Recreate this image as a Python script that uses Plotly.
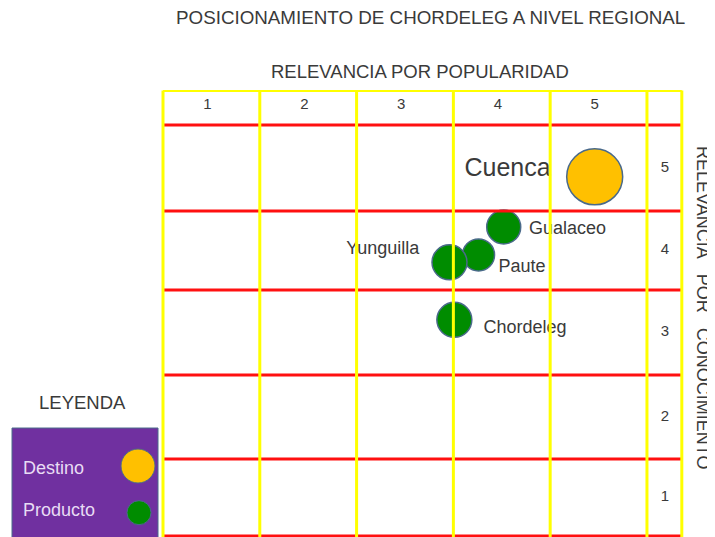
import plotly.graph_objects as go

# popularidad (x) / conocimiento (y) scores
lugares = ["Gualaceo", "Paute", "Yunguilla", "Chordeleg", "Cuenca"]
tipo = ["Producto", "Producto", "Producto", "Producto", "Destino"]
popularidad = [4.02, 3.76, 3.46, 3.51, 4.96]
conocimiento = [4.26, 3.92, 3.83, 3.13, 4.87]
tamano = [34, 32, 35, 35, 56]

# where each name sits (data units)
label_x = [4.68, 4.21, 2.77, 4.24, 4.06]
label_y = [4.235, 3.77, 3.98, 3.03, 4.95]

niveles = [1, 2, 3, 4, 5]
# the table rows are not quite even in the original
limites_filas = [0.5, 1.437, 2.459, 3.493, 4.454, 5.5]
titulo = "POSICIONAMIENTO DE CHORDELEG A NIVEL REGIONAL"
eje_x = "RELEVANCIA POR POPULARIDAD"
eje_y = "RELEVANCIA&nbsp;&nbsp;&nbsp;POR&nbsp;&nbsp;&nbsp;CONOCIMIENTO"

colores = {"Destino": "#FFC000", "Producto": "#008C00"}
borde = "#4A6A8A"
txt = "#3a3a3a"
font = "Liberation Sans, Arial, sans-serif"

x_right = 5.86   # right edge of the label column
y_top = 5.92     # top edge of the header row

fig = go.Figure()

# grid: red rows below, yellow columns on top
shapes = []
for yv in limites_filas:
    shapes.append(dict(type="line", xref="x", yref="y", x0=0.5, x1=x_right,
                       y0=yv, y1=yv, line=dict(color="#FF1010", width=3)))
for k in niveles + [0]:
    shapes.append(dict(type="line", xref="x", yref="y", x0=k + 0.5, x1=k + 0.5,
                       y0=0.3, y1=y_top, line=dict(color="#FFFF00", width=3)))
shapes.append(dict(type="line", xref="x", yref="y", x0=x_right, x1=x_right,
                   y0=0.3, y1=y_top, line=dict(color="#FFFF00", width=3)))
shapes.append(dict(type="line", xref="x", yref="y", x0=0.5, x1=x_right,
                   y0=y_top, y1=y_top, line=dict(color="#FFFF00", width=3)))

# header numbers and row numbers
fila_centro = [(a + b) / 2 for a, b in zip(limites_filas[:-1], limites_filas[1:])]
fig.add_trace(go.Scatter(x=[n - 0.04 for n in niveles], y=[5.74] * 5, mode="text",
                         text=[str(n) for n in niveles],
                         textfont=dict(family=font, size=15, color=txt), hoverinfo="skip"))
fig.add_trace(go.Scatter(x=[5.686] * 5, y=fila_centro, mode="text", text=[str(n) for n in niveles],
                         textfont=dict(family=font, size=15, color=txt), hoverinfo="skip"))

fig.add_trace(go.Scatter(
    x=popularidad, y=conocimiento, mode="markers",
    marker=dict(size=tamano, color=[colores[t] for t in tipo],
                line=dict(color=borde, width=1.5), opacity=1),
    text=lugares, hoverinfo="text"))

sizes = [18, 18, 18, 18, 25]
fig.add_trace(go.Scatter(
    x=label_x, y=label_y, mode="text", text=lugares,
    textfont=dict(family=font, size=sizes, color=txt), hoverinfo="skip"))

# legend box drawn by hand
shapes.append(dict(type="rect", xref="paper", yref="paper", x0=-0.2819, x1=-0.0038,
                   y0=-0.05, y1=0.2438, fillcolor="#7030A0", line=dict(color="#4A6A8A", width=1)))
for t, xp, yp, r in [("Destino", -0.0419, 0.1588, 17), ("Producto", -0.04, 0.0544, 12)]:
    shapes.append(dict(type="circle", xref="paper", yref="paper", xsizemode="pixel",
                       ysizemode="pixel", xanchor=xp, yanchor=yp, x0=-r, x1=r, y0=-r, y1=r,
                       fillcolor=colores[t], line=dict(color=borde, width=1)))

annotations = [
    dict(text=titulo, x=0.516, y=1.163, font=dict(size=18.8, color=txt)),
    dict(text=eje_x, x=0.495, y=1.0425, font=dict(size=18.5, color=txt)),
    dict(text=eje_y, x=1.0343, y=0.5145, textangle=90, font=dict(size=18, color=txt)),
    dict(text="LEYENDA", x=-0.1467, y=0.2998, font=dict(size=18.5, color=txt)),
    dict(text="Destino", x=-0.2038, y=0.1544, font=dict(size=18, color="#E8DCF4")),
    dict(text="Producto", x=-0.1924, y=0.0604, font=dict(size=18, color="#E8DCF4")),
]
for a in annotations:
    a.update(xref="paper", yref="paper", showarrow=False, xanchor="center", yanchor="middle")
    a["font"]["family"] = font

# the page body adds an 8px offset, so the figure is 8px short on each side
fig.update_layout(
    width=707, height=529,
    margin=dict(l=152, r=30, t=82, b=0),
    paper_bgcolor="white", plot_bgcolor="white",
    showlegend=False,
    shapes=shapes, annotations=annotations,
    xaxis=dict(range=[0.469, 5.893], visible=False, fixedrange=True),
    yaxis=dict(range=[0.488, 5.926], visible=False, fixedrange=True),
)

fig.write_html("out.html")
